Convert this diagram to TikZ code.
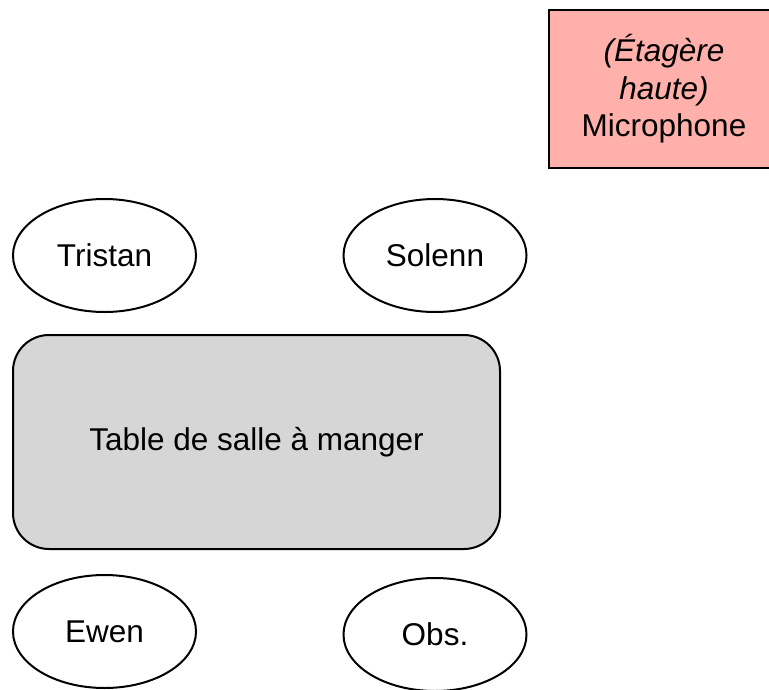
\documentclass[tikz,border=0pt]{standalone}
\usepackage{fontspec}
\setmainfont{Liberation Sans}
\usetikzlibrary{shapes.geometric}
\newcommand{\planfont}{\fontsize{31.5}{37.5}\selectfont}
\definecolor{micpink}{HTML}{FFB0AA}
\definecolor{tablegray}{HTML}{D6D6D6}

\begin{document}
\begin{tikzpicture}[x=1pt, y=-1pt,
  guest/.style={draw, ellipse, line width=2pt, minimum width=183pt, minimum height=113pt, inner sep=0pt, font=\planfont},
  tablebox/.style={draw, fill=tablegray, line width=2pt, rounded corners=36pt, minimum width=487pt, minimum height=214pt, font=\planfont},
  micbox/.style={draw, fill=micpink, line width=2pt, minimum width=230pt, minimum height=158pt, align=center, font=\planfont}]
\useasboundingbox (0,0) rectangle (769,689);
% microphone on the shelf
\node[micbox] (mic) at (664,89) {\textit{(Étagère}\\\textit{haute)}\\Microphone};
% people round the table
\node[guest] (tristan) at (104.5,255.5) {Tristan};
\node[guest] (solenn) at (435,255.5) {Solenn};
\node[tablebox] (table) at (256.5,442) {Table de salle à manger};
\node[guest] (ewen) at (104.5,631.5) {Ewen};
\node[guest] (obs) at (435,634.5) {Obs.};
\end{tikzpicture}
\end{document}
